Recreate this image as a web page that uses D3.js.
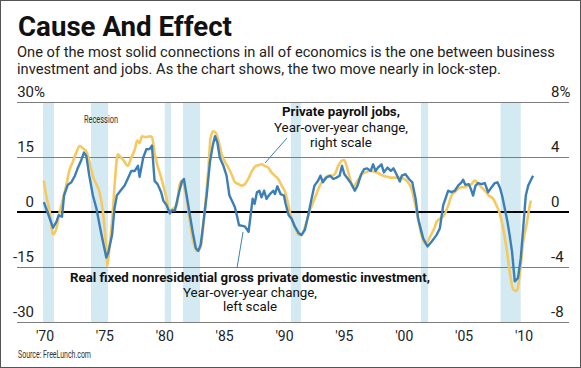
<!DOCTYPE html>
<html><head><meta charset="utf-8">
<script src="https://cdn.jsdelivr.net/npm/d3@7"></script>
<style>html,body{margin:0;padding:0;background:#fff;} svg{display:block;font-family:Roboto, "DejaVu Sans", sans-serif;}</style>
</head><body>
<svg id="c" width="581" height="368"></svg>
<script>
// ---------- data ----------
const invYears = [1969.9,1970.25,1970.67,1970.95,1971.14,1971.42,1971.59,1971.9,1972.2,1972.5,1972.75,1973.0,1973.25,1973.45,1973.7,1974.0,1974.3,1974.56,1974.84,1975.12,1975.3,1975.6,1975.8,1976.0,1976.3,1976.65,1976.9,1977.2,1977.5,1977.76,1977.9,1978.2,1978.46,1978.74,1978.93,1979.15,1979.4,1979.7,1979.88,1980.16,1980.43,1980.57,1980.85,1981.13,1981.41,1981.6,1981.83,1982.1,1982.38,1982.6,1982.8,1983.0,1983.2,1983.5,1983.77,1984.0,1984.2,1984.4,1984.6,1984.9,1985.16,1985.4,1985.66,1985.86,1986.05,1986.2,1986.5,1986.7,1987.0,1987.17,1987.34,1987.5,1987.7,1987.9,1988.08,1988.3,1988.5,1988.78,1989.06,1989.2,1989.4,1989.67,1989.95,1990.1,1990.35,1990.59,1990.87,1991.2,1991.42,1991.7,1991.98,1992.26,1992.5,1992.8,1993.0,1993.2,1993.5,1993.8,1994.07,1994.35,1994.6,1994.8,1995.0,1995.3,1995.6,1995.87,1996.1,1996.4,1996.65,1996.9,1997.2,1997.4,1997.6,1997.8,1998.1,1998.3,1998.6,1998.88,1999.1,1999.35,1999.63,1999.8,2000.1,2000.4,2000.67,2000.95,2001.16,2001.58,2001.94,2002.28,2002.69,2002.97,2003.25,2003.67,2003.95,2004.22,2004.5,2004.78,2004.92,2005.1,2005.39,2005.56,2005.75,2005.95,2006.17,2006.45,2006.73,2007.0,2007.28,2007.56,2007.78,2007.98,2008.17,2008.4,2008.62,2008.8,2009.0,2009.23,2009.5,2009.73,2009.93,2010.15,2010.35,2010.62,2010.76];
const invValues = [2.7,-0.4,-4.3,-2.7,-0.9,-1.3,4.5,7.4,8.1,9.9,12.1,13.9,16.2,15.3,9.9,4.5,0.9,-3.6,-8.1,-12.4,-10.8,-6.3,0.9,4.5,5.8,7.2,9.0,11.2,11.2,12.6,9.6,14.8,17.1,17.2,18.1,8.5,7.6,5.4,3.1,1.8,-0.4,0.4,0.4,4.5,8.1,9.0,4.5,-0.9,-6.3,-9.9,-10.6,-9.0,-3.6,4.5,13.5,18.0,20.7,18.9,14.8,12.6,9.9,4.5,2.7,1.3,-1.3,-3.6,-3.8,-4.0,-5.4,-0.9,3.6,2.2,5.4,5.8,4.0,5.8,3.6,4.9,5.8,4.9,7.0,4.9,4.5,2.2,-0.9,-1.8,-4.0,-5.8,-6.3,-4.9,-0.9,3.6,7.2,8.5,9.9,8.1,9.4,9.9,9.0,9.4,9.9,12.6,10.3,9.0,7.6,5.8,7.2,10.3,11.7,11.9,11.2,13.0,11.2,12.1,13.0,10.8,12.1,11.2,11.9,10.3,8.3,9.9,10.3,9.0,8.1,3.6,-1.8,-7.2,-9.4,-8.1,-6.3,-4.5,1.8,5.8,5.4,5.8,7.2,8.1,8.8,7.4,7.6,6.3,4.5,7.2,7.9,7.6,7.9,5.4,6.7,7.9,8.1,6.7,4.5,0.9,-2.7,-6.3,-10.8,-18.9,-18.0,-12.6,-4.5,4.5,7.2,9.0,9.9];

const jobYears = [1969.9,1970.1,1970.4,1970.67,1970.95,1971.2,1971.5,1971.8,1972.06,1972.3,1972.6,1972.9,1973.2,1973.45,1973.7,1974.0,1974.3,1974.56,1974.84,1975.1,1975.2,1975.38,1975.66,1975.85,1976.08,1976.36,1976.6,1976.9,1977.2,1977.5,1977.7,1977.9,1978.1,1978.4,1978.74,1978.93,1979.15,1979.4,1979.7,1979.88,1980.16,1980.38,1980.52,1980.7,1981.0,1981.2,1981.4,1981.6,1981.83,1982.1,1982.38,1982.66,1982.88,1983.08,1983.36,1983.64,1983.83,1984.05,1984.27,1984.47,1984.75,1985.0,1985.3,1985.58,1985.86,1986.14,1986.42,1986.7,1986.97,1987.25,1987.53,1987.8,1988.09,1988.36,1988.64,1988.92,1989.2,1989.48,1989.76,1990.03,1990.3,1990.59,1990.86,1991.14,1991.37,1991.56,1991.84,1992.12,1992.4,1992.67,1992.95,1993.31,1993.65,1993.93,1994.2,1994.48,1994.76,1994.98,1995.18,1995.45,1995.73,1995.93,1996.2,1996.5,1996.85,1997.2,1997.54,1997.88,1998.24,1998.6,1998.93,1999.35,1999.7,2000.0,2000.32,2000.6,2000.88,2001.16,2001.44,2001.72,2001.94,2002.22,2002.5,2002.7,2002.97,2003.33,2003.67,2003.95,2004.22,2004.5,2004.78,2005.06,2005.34,2005.62,2005.9,2006.17,2006.45,2006.73,2007.06,2007.42,2007.7,2007.98,2008.26,2008.54,2008.8,2009.1,2009.37,2009.65,2009.93,2010.2,2010.43,2010.57];
const jobValues = [2.28,1.2,0,-1.63,-1.2,-0.12,0.96,2.04,3.1,3.6,4.3,4.8,4.6,4.4,3.7,2.6,2.0,1.44,0,-2.6,-3.95,-2.6,0,2.4,4.2,3.95,3.7,3.35,3.95,4.55,5.2,5.0,5.5,5.46,5.5,5.46,4.3,3.35,2.5,1.9,0.96,0,0.12,0.24,0.48,1.8,2.28,1.9,0.96,-0.72,-2.16,-2.83,-2.75,-2.16,0.24,3.1,5.4,5.87,5.75,5.27,4.2,3.7,3.23,2.75,2.16,2.04,1.92,2.04,2.4,2.92,3.3,3.4,3.47,3.35,3.23,2.87,2.63,2.4,1.92,1.5,0.6,-0.48,-1.08,-1.63,-1.68,-1.44,-0.72,0.12,0.72,1.32,1.92,2.4,2.63,2.63,2.75,3.35,3.71,3.78,3.35,2.5,1.8,2.04,2.4,2.75,2.92,3.0,2.92,2.8,2.63,2.56,2.5,2.5,2.5,2.4,2.16,1.68,0.72,-0.5,-1.68,-2.28,-2.16,-1.68,-1.2,-0.72,-0.48,-0.24,0.48,1.2,1.44,1.68,1.8,1.8,1.92,2.04,2.28,2.04,1.8,1.56,1.2,0.96,0.48,-0.12,-1.2,-2.63,-4.3,-5.63,-5.75,-4.55,-2.16,-0.96,0.24,0.84];

const recessionStarts = [1969.83,1973.84,1980.0,1981.52,1990.53,2001.39,2008.04];
const recessionEnds   = [1970.75,1975.26,1980.52,1982.94,1991.37,2001.99,2009.73];

const leftTicks = [30,15,0,-15,-30];
const rightTicks = [8,4,0,-4,-8];
const xTicks = [1970,1975,1980,1985,1990,1995,2000,2005,2010];
const xTickLabels = ["'70","'75","'80","'85","'90","'95","'00","'05","'10"];

const titleText = "Cause And Effect";
const subtitleLines = ["One of the most solid connections in all of economics is the one between business",
                       "investment and jobs. As the chart shows, the two move nearly in lock-step."];
const jobsLabel = ["Private payroll jobs,","Year-over-year change,","right scale"];
const invLabel = ["Real fixed nonresidential gross private domestic investment,","Year-over-year change,","left scale"];
const sourceText = "Source: FreeLunch.com";

// ---------- layout ----------
const svg = d3.select("#c");
const x = d3.scaleLinear().domain([1970,2010]).range([45,524]);
const yL = d3.scaleLinear().domain([-30,30]).range([322,102]);
const yR = d3.scaleLinear().domain([-8,8]).range([322,102]);
const gridX0 = 17, gridX1 = 569;
const BLUE = "#3b7fb6", YELLOW = "#f5c95f", BAND = "#d3eaf2";

function fit(sel, w){
  const n = sel.node(); const fs = parseFloat(sel.attr("font-size"));
  const len = n.getComputedTextLength();
  sel.attr("font-size", (fs*w/len).toFixed(2));
}

// border
svg.append("rect").attr("x",0.5).attr("y",0.5).attr("width",580).attr("height",367)
  .attr("fill","#fff").attr("stroke","#555").attr("stroke-width",1);

// title + subtitle
fit(svg.append("text").attr("x",18).attr("y",36).attr("font-size",26).attr("font-weight",700)
  .attr("fill","#111").text(titleText), 214);
const sub1 = svg.append("text").attr("x",17).attr("y",57).attr("font-size",14).attr("fill","#222").text(subtitleLines[0]);
fit(sub1, 538);
svg.append("text").attr("x",17).attr("y",74).attr("font-size",sub1.attr("font-size")).attr("fill","#222").text(subtitleLines[1]);

// recession bands
svg.append("g").selectAll("rect").data(recessionStarts).join("rect")
  .attr("x",(d)=>x(d)).attr("width",(d,i)=>x(recessionEnds[i])-x(d))
  .attr("y",yL(30)).attr("height",yL(-30)-yL(30)).attr("fill",BAND);

// grid lines
svg.append("g").selectAll("line").data(leftTicks.filter(d=>d!==0)).join("line")
  .attr("x1",gridX0).attr("x2",gridX1).attr("y1",d=>yL(d)+0.5).attr("y2",d=>yL(d)+0.5)
  .attr("stroke","#7d7d7d").attr("stroke-width",1);

// left tick labels
const lt = svg.append("g").attr("font-size",15).attr("fill","#222");
lt.selectAll("text.n").data(leftTicks).join("text").attr("class","n")
  .attr("x",34).attr("y",d=>yL(d)-5).attr("text-anchor","end").text(d=>d);
lt.append("text").attr("x",34).attr("y",yL(30)-5).text("%");
// right tick labels
svg.append("g").attr("font-size",15).attr("fill","#222").selectAll("text").data(rightTicks).join("text")
  .attr("x",551).attr("y",d=>yR(d)-5).text((d,i)=> i===0 ? d+"%" : d);

// x axis labels
svg.append("g").attr("font-size",14).attr("fill","#222").selectAll("text").data(xTicks).join("text")
  .attr("x",d=>x(d)).attr("y",341).attr("text-anchor","middle").text((d,i)=>xTickLabels[i]);

// Recession label (condensed)
svg.append("text").attr("x",84).attr("y",123).attr("font-size",10.5).attr("fill","#333")
  .attr("textLength",34).attr("lengthAdjust","spacingAndGlyphs").text("Recession");

// zero line
svg.append("line").attr("x1",gridX0).attr("x2",gridX1).attr("y1",yL(0)).attr("y2",yL(0))
  .attr("stroke","#000").attr("stroke-width",1.8);

// series
const jobsLine = d3.line().x(d=>x(d[0])).y(d=>yR(d[1])).curve(d3.curveMonotoneX);
const invLine = d3.line().x(d=>x(d[0])).y(d=>yL(d[1]));
svg.append("path").datum(jobYears.map((d,i)=>[d,jobValues[i]])).attr("d",jobsLine)
  .attr("fill","none").attr("stroke",YELLOW).attr("stroke-width",2.6).attr("stroke-linejoin","round");
svg.append("path").datum(invYears.map((d,i)=>[d,invValues[i]])).attr("d",invLine)
  .attr("fill","none").attr("stroke",BLUE).attr("stroke-width",2.4).attr("stroke-linejoin","round");

// annotations
svg.append("line").attr("x1",287).attr("y1",138).attr("x2",265).attr("y2",163).attr("stroke",BLUE).attr("stroke-width",1);
svg.append("line").attr("x1",243).attr("y1",232).attr("x2",237).attr("y2",268).attr("stroke",BLUE).attr("stroke-width",1);

const jl = svg.append("g").attr("text-anchor","middle").attr("fill","#111");
fit(jl.append("text").attr("x",341).attr("y",116).attr("font-size",13).attr("font-weight",700).text(jobsLabel[0]),118);
const jl2 = jl.append("text").attr("x",341).attr("y",132).attr("font-size",14).text(jobsLabel[1]); fit(jl2,134);
jl.append("text").attr("x",341).attr("y",146.5).attr("font-size",jl2.attr("font-size")).text(jobsLabel[2]);

const il = svg.append("g").attr("text-anchor","middle").attr("fill","#111");
fit(il.append("text").attr("x",250).attr("y",282).attr("font-size",13).attr("font-weight",700).text(invLabel[0]),360);
const il2 = il.append("text").attr("x",250).attr("y",297).attr("font-size",14).text(invLabel[1]); fit(il2,134);
il.append("text").attr("x",250).attr("y",311).attr("font-size",il2.attr("font-size")).text(invLabel[2]);

// source (condensed)
svg.append("text").attr("x",18).attr("y",358).attr("font-size",10).attr("fill","#333")
  .attr("textLength",73).attr("lengthAdjust","spacingAndGlyphs").text(sourceText);
</script>
</body></html>
